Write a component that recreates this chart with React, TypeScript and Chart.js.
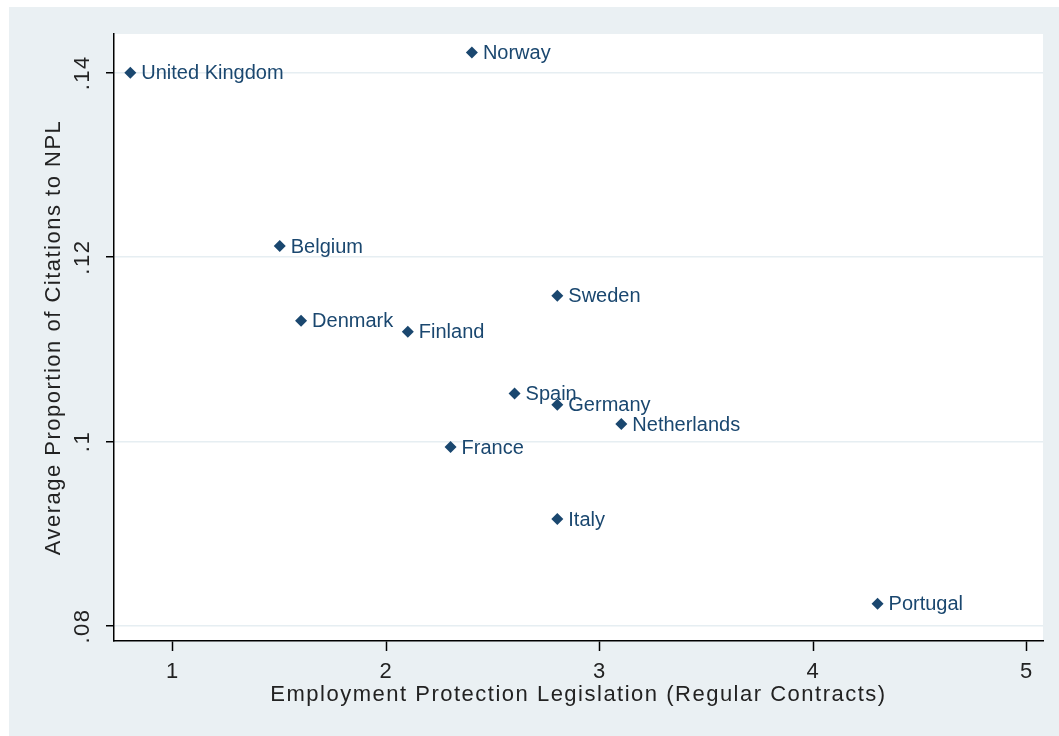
import React, { useEffect, useRef } from 'react';
import { Chart, registerables } from 'chart.js';

Chart.register(...registerables);

// ---- data ----
const countries = [
  'United Kingdom', 'Norway', 'Belgium', 'Sweden', 'Denmark', 'Finland',
  'Spain', 'Germany', 'Netherlands', 'France', 'Italy', 'Portugal',
];
const eplValues = [0.8, 2.4, 1.5, 2.8, 1.6, 2.1, 2.6, 2.8, 3.1, 2.3, 2.8, 4.3];
const nplShares = [0.1400, 0.1422, 0.1212, 0.1158, 0.1131, 0.1119, 0.1052, 0.1040, 0.1019, 0.0994, 0.0916, 0.0824];
const xTickValues = [1, 2, 3, 4, 5];
const xTickLabels = ['1', '2', '3', '4', '5'];
const yTickValues = [0.08, 0.1, 0.12, 0.14];
const yTickLabels = ['.08', '.1', '.12', '.14'];
const xTitle = 'Employment Protection Legislation (Regular Contracts)';
const yTitle = 'Average Proportion of Citations to NPL';

// ---- styles ----
const NAVY = '#1a476f';
const PANEL = '#eaf0f3';
const GRID = '#e6eef2';
const INK = '#222222';
const FONT = '"Liberation Sans", Arial, Helvetica, sans-serif';
const SPACING = '1.5px';

const bgPlugin = {
  id: 'stataBg',
  beforeUpdate(chart: any) { chart.ctx.letterSpacing = SPACING; },
  beforeLayout(chart: any) { chart.ctx.letterSpacing = SPACING; },
  beforeDraw(chart: any) {
    const { ctx, width, height, chartArea } = chart;
    ctx.save();
    ctx.fillStyle = '#ffffff';
    ctx.fillRect(0, 0, width, height);
    ctx.fillStyle = PANEL;
    ctx.fillRect(9, 7, width - 9, height - 7);
    ctx.fillStyle = '#ffffff';
    ctx.fillRect(chartArea.left, chartArea.top, chartArea.right - chartArea.left, chartArea.bottom - chartArea.top);
    ctx.restore();
    ctx.letterSpacing = SPACING;
  },
};

const labelPlugin = {
  id: 'pointLabels',
  afterDatasetsDraw(chart: any) {
    const { ctx } = chart;
    const meta = chart.getDatasetMeta(0);
    ctx.save();
    ctx.letterSpacing = '0px';
    ctx.font = `20px ${FONT}`;
    ctx.fillStyle = NAVY;
    ctx.textAlign = 'left';
    ctx.textBaseline = 'middle';
    meta.data.forEach((pt: any, i: number) => {
      ctx.fillText(countries[i], pt.x + 11, pt.y + 1);
    });
    ctx.restore();
  },
};

export default function App() {
  const ref = useRef<HTMLCanvasElement>(null);
  useEffect(() => {
    Chart.defaults.font.family = FONT;
    const chart = new Chart(ref.current as HTMLCanvasElement, {
      type: 'scatter',
      data: {
        datasets: [
          {
            data: eplValues.map((x, i) => ({ x, y: nplShares[i] })),
            pointStyle: 'rectRot',
            pointRadius: 6,
            pointHoverRadius: 6,
            backgroundColor: NAVY,
            borderColor: NAVY,
            borderWidth: 0,
          },
        ],
      },
      plugins: [bgPlugin, labelPlugin],
      options: {
        animation: false,
        responsive: false,
        devicePixelRatio: 1,
        events: [],
        layout: { padding: { top: 34, right: 16, left: 0, bottom: 0 } },
        plugins: { legend: { display: false }, tooltip: { enabled: false } },
        scales: {
          x: {
            type: 'linear',
            min: 0.7237,
            max: 5.075,
            afterBuildTicks: (s: any) => { s.ticks = xTickValues.map((v) => ({ value: v })); },
            afterFit: (s: any) => { s.height = 95; },
            border: { display: true, color: '#000', width: 1.5 },
            grid: { drawOnChartArea: false, drawTicks: true, tickLength: 10, tickColor: '#000', tickWidth: 1.5 },
            ticks: {
              color: INK,
              font: { size: 22 },
              padding: 8,
              maxRotation: 0,
              minRotation: 0,
              callback: (v: any) => xTickLabels[xTickValues.indexOf(Number(v))] ?? '',
            },
            title: { display: true, text: xTitle, color: INK, font: { size: 22 }, padding: { top: 0, bottom: 27.5 } },
          },
          y: {
            type: 'linear',
            min: 0.07837,
            max: 0.1442,
            afterBuildTicks: (s: any) => { s.ticks = yTickValues.map((v) => ({ value: v })); },
            afterFit: (s: any) => { s.width = 114; },
            border: { display: true, color: '#000', width: 1.5 },
            grid: { drawOnChartArea: true, color: GRID, lineWidth: 1.5, drawTicks: true, tickLength: 8, tickColor: '#000', tickWidth: 1.5 },
            ticks: {
              color: INK,
              font: { size: 22 },
              padding: 5.5,
              minRotation: 90,
              maxRotation: 90,
              crossAlign: 'center',
              callback: (v: any) => {
                const idx = yTickValues.findIndex((t) => Math.abs(t - Number(v)) < 1e-9);
                return idx >= 0 ? yTickLabels[idx] : '';
              },
            },
            title: { display: true, text: yTitle, color: INK, font: { size: 22 }, padding: { top: 41, bottom: 0 } },
          },
        },
      } as any,
    });
    return () => chart.destroy();
  }, []);
  return (
    <div style={{ position: 'fixed', left: 0, top: 0, width: 1059, height: 736 }}>
      <canvas ref={ref} width={1059} height={736} style={{ display: 'block' }} />
    </div>
  );
}
